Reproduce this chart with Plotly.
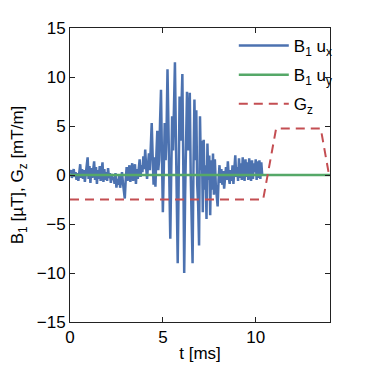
import plotly.graph_objects as go

# B1 pulse, sampled every 0.05 ms from t = 0
T_STEP = 0.05
b1_ux = [
    0.2, 0.5, -0.3, 0.4, 0.6, -0.2, 0.3, -0.5, 0.2, -0.6,
    0.4, 1.1, -0.3, 0.6, -0.4, 0.5, -0.7, 0.3, 1.0, 1.8,
    -0.4, 0.9, -0.8, 0.7, -0.3, 0.6, 1.4, -0.5, 0.8, -0.9,
    0.5, -0.4, 0.9, -0.6, 0.4, 1.3, -0.7, 0.6, -0.5, 0.3,
    -0.6, 0.7, -0.3, 0.2, -0.8, 0.1, -0.5, -0.2, -0.9, 0.2,
    -1.3, -0.4, -1.0, 0.1, -1.3, -0.3, 0.3, -0.8, -1.8, -2.4,
    -0.5, 0.8, -0.6, 0.4, 1.0, -0.7, 0.5, 1.2, -0.6, 0.3,
    1.1, -0.9, 0.6, -0.4, 1.2, 1.6, -0.2, 1.0, 0.3, 1.9,
    0.6, 2.6, 0.8, -0.4, 1.0, 2.2, 0.5, 3.5, 5.3, 2.0,
    -1.0, 1.8, -1.2, 2.0, 4.5, 0.5, 1.5, 5.5, 8.7, 2.0,
    -3.8, 0.5, 5.3, 1.5, 4.5, 10.8, 3.0, -2.0, -6.5, 0.0,
    6.0, 2.5, 7.5, 11.5, 4.0, -3.0, -9.0, -1.0, 8.0, 3.5,
    6.0, 10.3, 1.0, -10.0, -2.0, 4.0, 8.5, 2.5, 5.0, 8.4,
    0.0, -5.0, -9.0, 1.0, 7.7, 1.5, 6.6, -1.0, -3.0, -7.2,
    6.0, 0.5, 3.5, -3.8, 3.6, -1.5, 1.0, -4.5, 3.2, -0.5,
    2.0, -4.1, 1.5, -1.5, 2.2, -2.0, 1.6, -1.0, -1.8, -3.2,
    -0.5, 1.0, -0.8, 0.6, -1.0, 0.4, -1.4, -0.3, 0.8, -0.5,
    1.4, -0.3, -0.9, 0.5, -0.6, 1.0, -0.9, 0.6, 2.0, -0.2,
    0.8, -0.6, 1.7, -0.3, 1.2, -0.5, 1.8, 0.2, -0.6, 1.6,
    -0.2, 1.3, -0.5, 1.7, 0.1, -0.6, 1.5, -0.4, 1.2, 0.3,
    1.6, -0.5, 1.4, -0.3, 1.5, -0.4, 1.3, 0.0,
]
t_b1 = [round(i * T_STEP, 2) for i in range(len(b1_ux))]

t_uy = [0, 14]
b1_uy = [0, 0]

t_gz = [0, 10.4, 11.1, 13.5, 13.95]
gz = [-2.5, -2.5, 4.75, 4.75, 0]

FONT = "Liberation Sans, Arial, sans-serif"

fig = go.Figure()
fig.add_trace(go.Scatter(
    x=t_b1, y=b1_ux, mode="lines", name="B<sub>1</sub> u<sub>x</sub>",
    legendgroup="a", line=dict(color="#4C72B0", width=2.5),
))
fig.add_trace(go.Scatter(
    x=t_uy, y=b1_uy, mode="lines", name="B<sub>1</sub> u<sub>y</sub>",
    legendgroup="b", line=dict(color="#55A868", width=2.5),
))
fig.add_trace(go.Scatter(
    x=t_gz, y=gz, mode="lines", name="G<sub>z</sub>",
    legendgroup="c", line=dict(color="#C44E52", width=2, dash="9px,6px"),
))

axis_style = dict(
    showgrid=False, zeroline=False, showline=True, mirror="ticks",
    linecolor="#222222", linewidth=1, ticks="inside", ticklen=5,
    tickcolor="#222222", automargin=False,
    tickfont=dict(size=17, color="black", family=FONT),
)

# the page body adds an 8px offset, so the figure is 8px smaller
fig.update_layout(
    width=358, height=358,
    margin=dict(l=62, r=36, t=20, b=44),
    plot_bgcolor="white", paper_bgcolor="white",
    font=dict(family=FONT, color="black"),
    showlegend=True,
    legend=dict(
        x=1.03, y=1.0, xanchor="right", yanchor="top",
        bgcolor="rgba(0,0,0,0)", font=dict(size=17, family=FONT),
        tracegroupgap=4, itemwidth=50,
    ),
    xaxis=dict(
        range=[0, 14], tickvals=[0, 5, 10],
        title=dict(text="t [ms]", font=dict(size=17), standoff=0),
        **axis_style,
    ),
    yaxis=dict(
        range=[-15, 15], tickvals=[-15, -10, -5, 0, 5, 10, 15],
        title=dict(text="B<sub>1</sub> [µT], G<sub>z</sub> [mT/m]",
                   font=dict(size=17), standoff=8),
        **axis_style,
    ),
)

fig.write_html("out.html")
